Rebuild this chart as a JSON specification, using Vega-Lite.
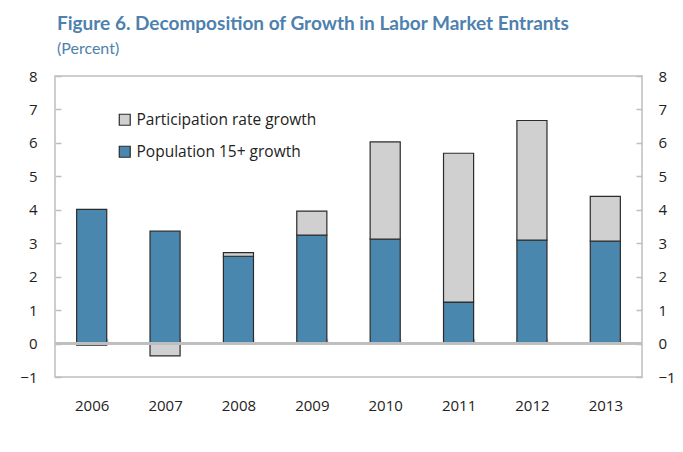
{
  "$schema": "https://vega.github.io/schema/vega-lite/v6.json",
  "width": 587,
  "height": 301,
  "autosize": {"type": "none"},
  "padding": {"left": 55, "top": 76, "right": 41, "bottom": 75},
  "background": "white",
  "title": {
    "text": "Figure 6. Decomposition of Growth in Labor Market Entrants",
    "subtitle": "(Percent)",
    "anchor": "start",
    "frame": "group",
    "offset": 12,
    "dx": 2,
    "font": "Lato",
    "fontSize": 19,
    "fontWeight": "bold",
    "color": "#4E81AE",
    "subtitleFont": "Lato",
    "subtitleFontSize": 16,
    "subtitleColor": "#4E81AE",
    "subtitlePadding": 7
  },
  "config": {
    "view": {"stroke": "#BFBFBF", "strokeWidth": 1.5},
    "font": "Open Sans"
  },
  "data": {
    "values": [
      {"year": "2006", "series": "Population 15+ growth", "value": 4.01},
      {"year": "2006", "series": "Participation rate growth", "value": -0.05},
      {"year": "2007", "series": "Population 15+ growth", "value": 3.36},
      {"year": "2007", "series": "Participation rate growth", "value": -0.37},
      {"year": "2008", "series": "Population 15+ growth", "value": 2.61},
      {"year": "2008", "series": "Participation rate growth", "value": 0.11},
      {"year": "2009", "series": "Population 15+ growth", "value": 3.24},
      {"year": "2009", "series": "Participation rate growth", "value": 0.72},
      {"year": "2010", "series": "Population 15+ growth", "value": 3.12},
      {"year": "2010", "series": "Participation rate growth", "value": 2.91},
      {"year": "2011", "series": "Population 15+ growth", "value": 1.24},
      {"year": "2011", "series": "Participation rate growth", "value": 4.45},
      {"year": "2012", "series": "Population 15+ growth", "value": 3.09},
      {"year": "2012", "series": "Participation rate growth", "value": 3.58},
      {"year": "2013", "series": "Population 15+ growth", "value": 3.06},
      {"year": "2013", "series": "Participation rate growth", "value": 1.34}
    ]
  },
  "resolve": {"scale": {"y": "shared"}, "axis": {"y": "independent"}},
  "layer": [
    {
      "mark": {"type": "bar", "stroke": "#2B2B2B", "strokeWidth": 1.2},
      "encoding": {
        "x": {
          "field": "year",
          "type": "ordinal",
          "scale": {"paddingInner": 0.59, "paddingOuter": 0.295},
          "axis": {
            "title": null,
            "orient": "bottom",
            "offset": -32.5,
            "domain": false,
            "tickColor": "#BFBFBF",
            "tickWidth": 1.5,
            "tickSize": -6,
            "tickBand": "extent",
            "labelPadding": 60,
            "labelFontSize": 15,
            "labelColor": "#222222",
            "labelAngle": 0
          }
        },
        "y": {
          "field": "value",
          "type": "quantitative",
          "stack": "zero",
          "scale": {"domain": [-1, 8], "nice": false, "zero": false},
          "axis": {
            "title": null,
            "orient": "left",
            "values": [-1, 0, 1, 2, 3, 4, 5, 6, 7, 8],
            "grid": false,
            "domain": false,
            "tickColor": "#BFBFBF",
            "tickWidth": 1.5,
            "tickSize": -6,
            "labelPadding": 24,
            "labelFontSize": 15,
            "labelColor": "#222222"
          }
        },
        "color": {
          "field": "series",
          "type": "nominal",
          "scale": {
            "domain": ["Participation rate growth", "Population 15+ growth"],
            "range": ["#D0D0D0", "#4A87AE"]
          },
          "legend": {
            "title": null,
            "orient": "none",
            "legendX": 62,
            "legendY": 36,
            "symbolType": "square",
            "symbolSize": 120,
            "symbolStrokeColor": "#2B2B2B",
            "symbolStrokeWidth": 1.2,
            "labelFontSize": 15.5,
            "labelLimit": 400,
            "labelColor": "#222222",
            "labelOffset": 4,
            "rowPadding": 14
          }
        },
        "order": {"field": "series", "sort": "descending"}
      }
    },
    {
      "mark": {"type": "rule", "color": "#BFBFBF", "strokeWidth": 1.5},
      "encoding": {
        "y": {
          "datum": 0,
          "type": "quantitative",
          "axis": {
            "title": null,
            "orient": "right",
            "values": [-1, 0, 1, 2, 3, 4, 5, 6, 7, 8],
            "grid": false,
            "domain": false,
            "tickColor": "#BFBFBF",
            "tickWidth": 1.5,
            "tickSize": -6,
            "labelPadding": 22,
            "labelFontSize": 15,
            "labelColor": "#222222"
          }
        }
      }
    }
  ]
}
